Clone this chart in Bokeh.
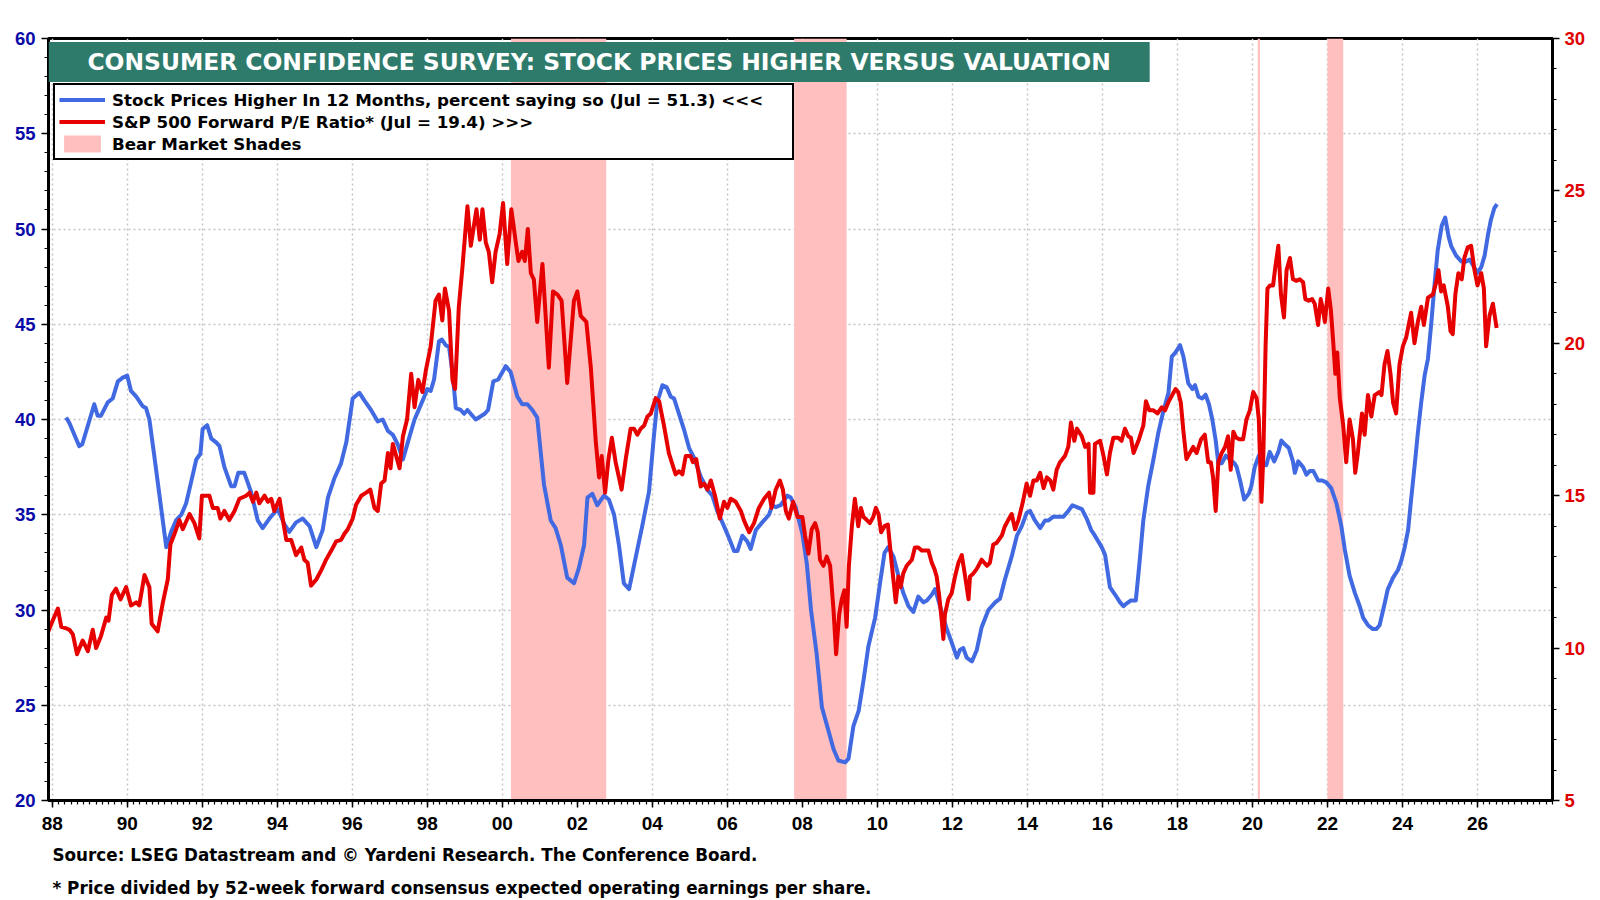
from bokeh.plotting import figure
from bokeh.models import (Range1d, LinearAxis, FixedTicker, Legend, LegendItem,
                          Label, BoxAnnotation, ColumnDataSource, Title)
from bokeh.embed import file_html
from bokeh.resources import INLINE

FONT = "Liberation Sans"
TFONT = "DejaVu Sans"

# ---------------- data ----------------
blue_years = [
    1988.37, 1988.46, 1988.72, 1988.8, 1989.12, 1989.21, 1989.3, 1989.48, 1989.61, 1989.75,
    1989.88, 1990.0, 1990.1, 1990.24, 1990.41, 1990.5, 1990.59, 1990.72, 1990.9, 1991.04,
    1991.17, 1991.3, 1991.44, 1991.57, 1991.7, 1991.84, 1991.95, 1992.01, 1992.13, 1992.24,
    1992.37, 1992.46, 1992.59, 1992.77, 1992.86, 1992.96, 1993.12, 1993.3, 1993.48, 1993.61,
    1993.79, 1994.01, 1994.19, 1994.32, 1994.5, 1994.68, 1994.86, 1995.04, 1995.21, 1995.35,
    1995.52, 1995.7, 1995.84, 1996.01, 1996.19, 1996.32, 1996.5, 1996.68, 1996.81, 1996.95,
    1997.08, 1997.21, 1997.35, 1997.48, 1997.66, 1997.92, 1998.0, 1998.09, 1998.18, 1998.31,
    1998.39, 1998.49, 1998.58, 1998.67, 1998.76, 1998.89, 1998.98, 1999.07, 1999.29, 1999.53,
    1999.62, 1999.76, 1999.89, 2000.09, 2000.22, 2000.4, 2000.53, 2000.67, 2000.8, 2000.93,
    2001.11, 2001.29, 2001.42, 2001.56, 2001.73, 2001.91, 2002.04, 2002.18, 2002.27, 2002.4,
    2002.53, 2002.71, 2002.84, 2002.98, 2003.11, 2003.24, 2003.38, 2003.56, 2003.73, 2003.91,
    2004.04, 2004.13, 2004.27, 2004.38, 2004.49, 2004.58, 2004.71, 2004.84, 2004.98, 2005.11,
    2005.29, 2005.47, 2005.6, 2005.73, 2005.91, 2006.04, 2006.18, 2006.27, 2006.4, 2006.53,
    2006.62, 2006.76, 2006.93, 2007.11, 2007.2, 2007.29, 2007.42, 2007.6, 2007.69, 2007.82,
    2008.0, 2008.12, 2008.23, 2008.38, 2008.52, 2008.69, 2008.83, 2008.96, 2009.14, 2009.23,
    2009.36, 2009.5, 2009.63, 2009.76, 2009.94, 2010.07, 2010.19, 2010.29, 2010.43, 2010.56,
    2010.69, 2010.83, 2010.96, 2011.09, 2011.23, 2011.32, 2011.45, 2011.54, 2011.67, 2011.85,
    2011.98, 2012.12, 2012.2, 2012.29, 2012.38, 2012.52, 2012.65, 2012.78, 2012.96, 2013.14,
    2013.27, 2013.4, 2013.58, 2013.72, 2013.85, 2013.98, 2014.07, 2014.2, 2014.34, 2014.47,
    2014.56, 2014.69, 2014.96, 2015.09, 2015.2, 2015.32, 2015.45, 2015.58, 2015.7, 2015.8,
    2015.98, 2016.07, 2016.2, 2016.34, 2016.47, 2016.56, 2016.65, 2016.76, 2016.89, 2016.98,
    2017.09, 2017.22, 2017.36, 2017.49, 2017.62, 2017.76, 2017.85, 2017.94, 2018.07, 2018.16,
    2018.29, 2018.4, 2018.47, 2018.56, 2018.66, 2018.75, 2018.84, 2018.93, 2019.02, 2019.09,
    2019.18, 2019.29, 2019.4, 2019.52, 2019.58, 2019.67, 2019.78, 2019.9, 2019.97, 2020.06,
    2020.17, 2020.29, 2020.37, 2020.46, 2020.58, 2020.69, 2020.77, 2020.86, 2020.97, 2021.08,
    2021.13, 2021.22, 2021.35, 2021.44, 2021.53, 2021.62, 2021.75, 2021.86, 2021.97, 2022.1,
    2022.24, 2022.37, 2022.46, 2022.59, 2022.73, 2022.86, 2022.95, 2023.08, 2023.21, 2023.3,
    2023.39, 2023.52, 2023.61, 2023.75, 2023.88, 2023.97, 2024.06, 2024.15, 2024.23, 2024.32,
    2024.41, 2024.5, 2024.59, 2024.68, 2024.77, 2024.86, 2024.94, 2025.05, 2025.14, 2025.23,
    2025.3, 2025.43, 2025.57, 2025.7, 2025.79, 2025.88, 2026.0, 2026.1, 2026.19, 2026.28,
    2026.36, 2026.45, 2026.52,
]
blue_values = [
    40.1, 39.8, 38.6, 38.7, 40.8, 40.2, 40.2, 40.9, 41.1, 42.0,
    42.2, 42.3, 41.5, 41.2, 40.7, 40.6, 40.0, 38.1, 35.4, 33.3,
    34.1, 34.7, 35.0, 35.6, 36.7, 37.9, 38.2, 39.5, 39.7, 39.0,
    38.8, 38.6, 37.5, 36.5, 36.5, 37.2, 37.2, 36.2, 34.7, 34.3,
    34.8, 35.3, 34.5, 34.1, 34.6, 34.8, 34.4, 33.3, 34.2, 35.9,
    36.9, 37.7, 38.8, 41.1, 41.4, 41.0, 40.5, 39.9, 40.0, 39.4,
    39.2, 38.7, 37.9, 38.8, 40.0, 41.2, 41.6, 41.5, 42.1, 44.1,
    44.2, 43.9, 43.8, 42.5, 40.6, 40.5, 40.3, 40.5, 40.0, 40.3,
    40.5, 42.0, 42.1, 42.8, 42.5, 41.2, 40.8, 40.8, 40.5, 40.1,
    36.6, 34.7, 34.3, 33.4, 31.7, 31.4, 32.2, 33.4, 35.9, 36.1,
    35.5, 36.0, 35.8, 35.0, 33.4, 31.4, 31.1, 32.8, 34.4, 36.2,
    39.1, 40.9, 41.8, 41.7, 41.2, 41.1, 40.3, 39.5, 38.5, 38.0,
    37.0, 36.3, 36.0, 35.2, 34.4, 33.8, 33.1, 33.1, 33.9, 33.6,
    33.2, 34.2, 34.6, 35.0, 35.5, 35.4, 35.5, 36.0, 35.9, 35.4,
    34.0, 32.4, 30.0, 27.7, 24.9, 23.7, 22.7, 22.1, 22.0, 22.2,
    23.9, 24.7, 26.3, 28.1, 29.6, 31.4, 33.0, 33.3, 32.8, 31.8,
    30.9, 30.2, 29.9, 30.7, 30.4, 30.5, 30.8, 31.1, 30.2, 29.0,
    28.3, 27.5, 27.9, 28.0, 27.5, 27.3, 27.9, 29.1, 30.0, 30.4,
    30.6, 31.6, 32.8, 33.9, 34.4, 35.1, 35.2, 34.7, 34.3, 34.7,
    34.7, 34.9, 34.9, 35.2, 35.5, 35.4, 35.3, 34.8, 34.2, 33.9,
    33.3, 32.9, 31.2, 30.8, 30.4, 30.2, 30.35, 30.5, 30.5, 32.3,
    34.7, 36.5, 37.9, 39.3, 40.4, 41.4, 43.3, 43.5, 43.9, 43.3,
    41.9, 41.6, 41.8, 41.2, 41.1, 41.3, 40.8, 40.0, 38.9, 37.7,
    37.7, 38.1, 37.9, 37.7, 37.5, 36.8, 35.8, 36.1, 36.5, 37.5,
    38.1, 37.7, 37.6, 38.3, 37.8, 38.3, 38.9, 38.7, 38.5, 37.8,
    37.2, 37.8, 37.5, 37.1, 37.3, 37.3, 36.8, 36.8, 36.7, 36.4,
    35.6, 34.4, 33.2, 31.8, 30.9, 30.2, 29.6, 29.2, 29.0, 29.0,
    29.2, 30.3, 31.1, 31.7, 32.1, 32.6, 33.3, 34.2, 35.8, 37.5,
    39.3, 40.9, 42.3, 43.2, 45.1, 47.2, 48.9, 50.2, 50.6, 49.6,
    49.1, 48.6, 48.3, 48.3, 48.4, 48.1, 47.7, 48.0, 48.6, 49.7,
    50.5, 51.1, 51.3,
]

red_years = [
    1987.88, 1988.01, 1988.15, 1988.24, 1988.37, 1988.46, 1988.55, 1988.66, 1988.81, 1988.95,
    1989.08, 1989.17, 1989.3, 1989.44, 1989.5, 1989.59, 1989.7, 1989.82, 1989.97, 1990.1,
    1990.24, 1990.32, 1990.46, 1990.59, 1990.65, 1990.81, 1990.95, 1991.08, 1991.15, 1991.26,
    1991.39, 1991.48, 1991.66, 1991.79, 1991.92, 1991.99, 1992.1, 1992.19, 1992.28, 1992.41,
    1992.48, 1992.59, 1992.72, 1992.86, 1992.99, 1993.17, 1993.26, 1993.35, 1993.44, 1993.52,
    1993.66, 1993.75, 1993.84, 1993.92, 1994.06, 1994.15, 1994.24, 1994.37, 1994.5, 1994.64,
    1994.72, 1994.81, 1994.9, 1995.04, 1995.17, 1995.3, 1995.44, 1995.57, 1995.7, 1995.79,
    1995.88, 1996.01, 1996.1, 1996.24, 1996.37, 1996.48, 1996.59, 1996.68, 1996.77, 1996.86,
    1996.95, 1997.02, 1997.08, 1997.17, 1997.26, 1997.35, 1997.46, 1997.57, 1997.66, 1997.76,
    1997.87, 1997.96, 1998.09, 1998.22, 1998.31, 1998.4, 1998.47, 1998.58, 1998.67, 1998.74,
    1998.84, 1998.93, 1999.07, 1999.16, 1999.31, 1999.4, 1999.47, 1999.56, 1999.64, 1999.73,
    1999.82, 1999.93, 2000.02, 2000.13, 2000.24, 2000.36, 2000.43, 2000.53, 2000.6, 2000.68,
    2000.76, 2000.84, 2000.93, 2001.07, 2001.24, 2001.35, 2001.47, 2001.58, 2001.73, 2001.91,
    2002.0, 2002.09, 2002.24, 2002.36, 2002.49, 2002.58, 2002.65, 2002.74, 2002.83, 2002.92,
    2003.02, 2003.18, 2003.29, 2003.42, 2003.51, 2003.6, 2003.69, 2003.78, 2003.87, 2003.96,
    2004.09, 2004.18, 2004.31, 2004.44, 2004.62, 2004.71, 2004.8, 2004.89, 2005.02, 2005.08,
    2005.17, 2005.29, 2005.38, 2005.47, 2005.56, 2005.67, 2005.8, 2005.91, 2006.0, 2006.09,
    2006.22, 2006.36, 2006.44, 2006.58, 2006.71, 2006.84, 2006.98, 2007.11, 2007.18, 2007.29,
    2007.4, 2007.48, 2007.56, 2007.64, 2007.75, 2007.87, 2008.0, 2008.07, 2008.16, 2008.25,
    2008.34, 2008.41, 2008.47, 2008.56, 2008.65, 2008.74, 2008.83, 2008.9, 2008.98, 2009.05,
    2009.12, 2009.18, 2009.24, 2009.32, 2009.4, 2009.49, 2009.56, 2009.63, 2009.72, 2009.8,
    2009.89, 2009.96, 2010.03, 2010.1, 2010.19, 2010.28, 2010.38, 2010.49, 2010.56, 2010.62,
    2010.69, 2010.78, 2010.92, 2011.0, 2011.09, 2011.18, 2011.27, 2011.36, 2011.45, 2011.52,
    2011.58, 2011.64, 2011.7, 2011.76, 2011.8, 2011.89, 2011.98, 2012.07, 2012.16, 2012.25,
    2012.34, 2012.43, 2012.47, 2012.56, 2012.65, 2012.78, 2012.92, 2013.0, 2013.09, 2013.18,
    2013.32, 2013.4, 2013.49, 2013.58, 2013.67, 2013.76, 2013.87, 2013.98, 2014.07, 2014.16,
    2014.25, 2014.34, 2014.43, 2014.52, 2014.61, 2014.69, 2014.78, 2014.87, 2015.0, 2015.09,
    2015.16, 2015.25, 2015.32, 2015.45, 2015.54, 2015.63, 2015.67, 2015.76, 2015.8, 2015.94,
    2016.03, 2016.12, 2016.2, 2016.29, 2016.42, 2016.51, 2016.6, 2016.69, 2016.76, 2016.83,
    2016.96, 2017.09, 2017.16, 2017.25, 2017.36, 2017.47, 2017.58, 2017.67, 2017.77, 2017.86,
    2017.95, 2018.02, 2018.09, 2018.16, 2018.24, 2018.33, 2018.42, 2018.51, 2018.63, 2018.73,
    2018.82, 2018.89, 2018.95, 2019.02, 2019.09, 2019.18, 2019.27, 2019.35, 2019.42, 2019.49,
    2019.57, 2019.66, 2019.75, 2019.84, 2019.93, 2020.02, 2020.11, 2020.17, 2020.24, 2020.29,
    2020.35, 2020.4, 2020.47, 2020.55, 2020.61, 2020.69, 2020.76, 2020.84, 2020.91, 2021.0,
    2021.08, 2021.17, 2021.26, 2021.35, 2021.41, 2021.5, 2021.59, 2021.66, 2021.75, 2021.82,
    2021.88, 2021.93, 2022.02, 2022.09, 2022.15, 2022.21, 2022.26, 2022.33, 2022.42, 2022.5,
    2022.59, 2022.68, 2022.74, 2022.81, 2022.92, 2022.99, 2023.08, 2023.17, 2023.26, 2023.39,
    2023.44, 2023.52, 2023.6, 2023.68, 2023.75, 2023.83, 2023.92, 2024.01, 2024.1, 2024.23,
    2024.32, 2024.41, 2024.5, 2024.57, 2024.68, 2024.81, 2024.9, 2024.96, 2025.03, 2025.1,
    2025.21, 2025.28, 2025.34, 2025.41, 2025.49, 2025.58, 2025.65, 2025.74, 2025.83, 2025.92,
    2026.0, 2026.1, 2026.17, 2026.23, 2026.32, 2026.41, 2026.51,
]
red_values = [
    10.5, 10.9, 11.3, 10.7, 10.65, 10.6, 10.45, 9.8, 10.25, 9.9,
    10.6, 10.0, 10.4, 11.0, 10.9, 11.75, 11.95, 11.6, 12.0, 11.4,
    11.5, 11.4, 12.4, 12.0, 10.8, 10.55, 11.5, 12.25, 13.4, 13.75,
    14.2, 13.9, 14.4, 14.1, 13.6, 15.0, 15.0, 15.0, 14.6, 14.6,
    14.25, 14.5, 14.2, 14.5, 14.9, 15.0, 15.1, 14.8, 15.1, 14.75,
    15.0, 14.8, 14.9, 14.5, 14.9, 14.2, 13.55, 13.55, 13.05, 13.3,
    12.9, 12.8, 12.05, 12.25, 12.55, 12.9, 13.2, 13.5, 13.55, 13.75,
    13.9, 14.25, 14.7, 15.0, 15.1, 15.2, 14.6, 14.5, 15.4, 15.5,
    16.4, 15.9, 16.7, 16.3, 15.9, 16.95, 17.5, 19.0, 17.9, 18.8,
    18.4, 19.1, 19.9, 21.4, 21.6, 20.75, 21.8, 21.06, 18.8, 18.5,
    21.2, 22.4, 24.5, 23.2, 24.4, 23.4, 24.4, 23.3, 23.0, 22.0,
    23.0, 23.6, 24.6, 22.6, 24.4, 23.3, 22.7, 23.0, 22.7, 23.75,
    22.3, 22.1, 20.7, 22.6, 19.2, 21.7, 21.6, 21.4, 18.7, 21.4,
    21.7, 20.9, 20.7, 19.2, 16.8, 15.6, 16.3, 15.1, 16.2, 16.9,
    16.1, 15.2, 16.2, 17.2, 17.2, 17.0, 17.2, 17.3, 17.6, 17.7,
    18.2, 18.1, 17.3, 16.4, 15.7, 15.8, 15.7, 16.3, 16.3, 16.1,
    16.2, 15.3, 15.4, 15.2, 15.5, 15.0, 14.25, 14.8, 14.6, 14.9,
    14.8, 14.5, 14.2, 13.8, 14.1, 14.6, 14.9, 15.1, 14.6, 15.2,
    15.5, 15.2, 14.5, 14.25, 14.8, 14.3, 14.3, 13.7, 13.1, 13.9,
    14.1, 13.8, 12.9, 12.7, 13.0, 12.7, 11.25, 9.8, 11.1, 11.6,
    11.9, 10.7, 12.7, 14.0, 14.9, 14.0, 14.6, 14.3, 14.2, 14.1,
    14.3, 14.6, 14.4, 13.8, 14.0, 14.05, 12.8, 11.5, 12.35, 12.0,
    12.45, 12.7, 12.9, 13.3, 13.3, 13.2, 13.2, 13.2, 12.8, 12.6,
    12.35, 11.8, 11.1, 10.3, 11.1, 11.6, 11.8, 12.35, 12.8, 13.05,
    12.35, 11.6, 12.35, 12.45, 12.6, 12.9, 12.7, 12.8, 13.4, 13.45,
    13.7, 14.0, 14.2, 14.4, 13.9, 14.2, 14.75, 15.4, 15.0, 15.5,
    15.5, 15.75, 15.25, 15.6, 15.5, 15.2, 15.85, 16.1, 16.3, 16.6,
    17.4, 16.8, 17.2, 16.95, 16.6, 16.7, 15.1, 15.1, 16.7, 16.8,
    16.3, 15.7, 16.4, 16.9, 16.9, 16.8, 17.2, 16.95, 16.9, 16.4,
    16.8, 17.3, 18.1, 17.8, 17.8, 17.7, 17.9, 17.8, 18.1, 18.3,
    18.5, 18.4, 18.05, 17.1, 16.2, 16.4, 16.6, 16.4, 16.85, 17.0,
    16.1, 16.1, 15.6, 14.5, 16.1, 16.4, 16.6, 16.95, 15.85, 17.1,
    16.9, 16.85, 16.85, 17.5, 17.8, 18.4, 18.2, 17.5, 14.8, 16.3,
    19.9, 21.8, 21.9, 21.9, 22.5, 23.2, 21.6, 20.85, 22.4, 22.8,
    22.1, 22.05, 22.1, 22.0, 21.45, 21.4, 21.45, 21.3, 20.6, 21.45,
    21.1, 20.7, 21.8, 21.1, 20.1, 19.0, 19.7, 18.2, 17.3, 16.1,
    17.5, 16.85, 15.75, 16.4, 17.7, 17.0, 18.3, 17.6, 18.3, 18.4,
    18.3, 19.3, 19.75, 19.0, 18.05, 17.7, 19.3, 19.9, 20.2, 21.0,
    20.0, 20.7, 21.2, 20.6, 21.5, 21.6, 22.0, 22.4, 21.7, 21.9,
    21.2, 20.4, 20.3, 21.6, 22.3, 22.1, 22.8, 23.15, 23.2, 22.4,
    21.9, 22.3, 21.8, 19.9, 20.9, 21.3, 20.5,
]

bear_start = [2000.23, 2007.78, 2020.14, 2022.0]
bear_end = [2002.77, 2009.18, 2020.20, 2022.42]

x_tick_years = list(range(1988, 2027, 2))
x_tick_labels = ["%02d" % (y % 100) for y in x_tick_years]
left_ticks = [20, 25, 30, 35, 40, 45, 50, 55, 60]
right_ticks = [5, 10, 15, 20, 25, 30]

title_text = "CONSUMER CONFIDENCE SURVEY: STOCK PRICES HIGHER VERSUS VALUATION"
blue_label = "Stock Prices Higher In 12 Months, percent saying so (Jul = 51.3) <<<"
red_label = "S&P 500 Forward P/E Ratio* (Jul = 19.4) >>>"
shade_label = "Bear Market Shades"
footer1 = "Source: LSEG Datastream and \u00a9 Yardeni Research. The Conference Board."
footer2 = "* Price divided by 52-week forward consensus expected operating earnings per share."

BLUE = "#4169e1"
RED = "#e60000"
PINK = "#ffbfbf"
GREEN = "#2e7b6c"
LEFT_LABEL = "#0a0aa8"

# ---------------- figure ----------------
X0, X1 = 1987.9, 2028.0
FRAME_H = 762
p = figure(frame_width=1504, frame_height=FRAME_H,
           x_range=Range1d(X0, X1), y_range=Range1d(20, 60),
           output_backend="svg", toolbar_location=None,
           min_border_left=48, min_border_right=48, min_border_top=38,
           min_border_bottom=98, background_fill_color="white",
           border_fill_color="white")
p.extra_y_ranges = {"pe": Range1d(5, 30)}
p.outline_line_color = "black"
p.outline_line_width = 3
p.outline_line_alpha = 1


def style_axis(ax, size, color):
    ax.axis_line_color = "black"
    ax.axis_line_width = 3
    ax.major_tick_line_color = "black"
    ax.major_tick_line_width = 1.5
    ax.major_tick_out = 7
    ax.major_tick_in = 0
    ax.minor_tick_line_color = "black"
    ax.minor_tick_line_width = 1.2
    ax.minor_tick_out = 4
    ax.minor_tick_in = 0
    ax.major_label_text_font = FONT
    ax.major_label_text_font_style = "bold"
    ax.major_label_text_font_size = size
    ax.major_label_text_color = color


# x axis
xticker = FixedTicker(ticks=x_tick_years,
                      minor_ticks=[1988 + i / 6 for i in range(0, 241)])
xax = p.xaxis[0]
xax.ticker = xticker
xax.major_label_overrides = {y: lab for y, lab in zip(x_tick_years, x_tick_labels)}
style_axis(xax, "19px", "black")
xax.major_label_standoff = 9

# left axis
lticker = FixedTicker(ticks=left_ticks, minor_ticks=list(range(20, 61)))
yax = p.yaxis[0]
yax.ticker = lticker
style_axis(yax, "18.5px", LEFT_LABEL)
yax.major_label_standoff = 6

# right axis
rticker = FixedTicker(ticks=right_ticks, minor_ticks=list(range(5, 31)))
rax = LinearAxis(y_range_name="pe", ticker=rticker)
style_axis(rax, "18.5px", "#e00000")
rax.major_label_standoff = 5
p.add_layout(rax, "right")

# grids
for g, tk in ((p.xgrid[0], xticker), (p.ygrid[0], lticker)):
    g.ticker = tk
    g.grid_line_color = "#c4c4c4"
    g.grid_line_width = 1.5
    g.grid_line_dash = "2 3"

# bear market shades
shade_src = ColumnDataSource(dict(left=bear_start, right=bear_end))
shades = p.quad(left="left", right="right", bottom=20, top=60, source=shade_src,
                fill_color=PINK, fill_alpha=1.0, line_color=None)

# lines
blue_line = p.line(blue_years, blue_values, line_color=BLUE, line_width=4,
                   line_join="round")
red_line = p.line(red_years, red_values, line_color=RED, line_width=4,
                  line_join="round", y_range_name="pe")

# title band
BAND_L, BAND_R, BAND_T, BAND_B = X0, 2017.26, 59.82, 57.72
p.add_layout(BoxAnnotation(left=BAND_L, right=BAND_R, top=BAND_T, bottom=BAND_B,
                           fill_color=GREEN, fill_alpha=1.0, line_color=None))
p.add_layout(Label(x=(BAND_L + BAND_R) / 2, y=(BAND_T + BAND_B) / 2, text=title_text,
                   text_align="center", text_baseline="middle", text_color="white",
                   text_font=TFONT, text_font_style="bold", text_font_size="23.4px"))

# legend
legend = Legend(items=[LegendItem(label=blue_label, renderers=[blue_line]),
                       LegendItem(label=red_label, renderers=[red_line]),
                       LegendItem(label=shade_label, renderers=[shades])],
                location=(5, FRAME_H - 47 - 75))
legend.border_line_color = "black"
legend.border_line_width = 2
legend.border_line_alpha = 1
legend.background_fill_color = "white"
legend.background_fill_alpha = 1
legend.padding = 4
legend.spacing = 1
legend.margin = 0
legend.glyph_width = 46
legend.glyph_height = 21
legend.label_height = 21
legend.label_width = 676
legend.label_standoff = 7
legend.label_text_font = TFONT
legend.label_text_font_style = "bold"
legend.label_text_font_size = "16.7px"
legend.label_text_color = "black"
p.add_layout(legend)

# footers
for txt, so in ((footer1, 21), (footer2, 0)):
    p.add_layout(Title(text=txt, align="left", offset=4, standoff=so,
                       text_color="black", text_font=TFONT, text_font_style="bold",
                       text_font_size="16.8px"), "below")

open("out.html", "w").write(file_html(p, INLINE))
